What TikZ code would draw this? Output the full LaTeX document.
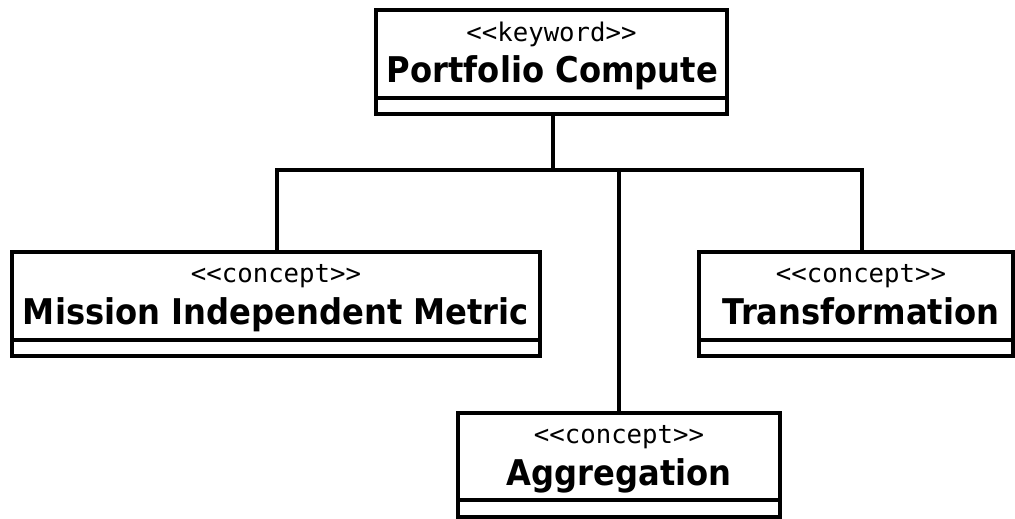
\documentclass[tikz,border=0pt]{standalone}
\usepackage{fontspec}
\setmainfont{DejaVu Sans}
\newfontfamily\stereofont{DejaVu Sans Mono}
\newfontfamily\namefont{DejaVu Sans Bold}
\newcommand{\tallname}[1]{\scalebox{1}[1.1]{#1}}
\begin{document}
\begin{tikzpicture}[x=1pt,y=-1pt,
  classbox/.style={draw=black,line width=3.3pt,rectangle,inner sep=0pt,minimum height=104pt},
  stereo/.style={anchor=base,inner sep=0pt,font=\stereofont\fontsize{25.7}{28}\selectfont},
  cname/.style={anchor=base,inner sep=0pt,font=\namefont\fontsize{32.2}{36}\selectfont},
  conn/.style={line width=3.3pt,line cap=rect}]
\useasboundingbox (0,0) rectangle (1015,519);
% boxes
\node[classbox,minimum width=351pt] (top) at (551.5,62) {};
\node[classbox,minimum width=528pt] (mim) at (276,304) {};
\node[classbox,minimum width=314pt] (trans) at (856,304) {};
\node[classbox,minimum width=322pt] (agg) at (619,465) {};
% dividers
\draw[line width=3.3pt] (top.west |- 0,98) -- (top.east |- 0,98);
\draw[line width=3.3pt] (mim.west |- 0,340) -- (mim.east |- 0,340);
\draw[line width=3.3pt] (trans.west |- 0,340) -- (trans.east |- 0,340);
\draw[line width=3.3pt] (agg.west |- 0,500) -- (agg.east |- 0,500);
% texts
\node[stereo] (topst) at (551.5,42) {<<keyword>>};
\node[cname] (topnm) at (552.5,82) {\tallname{Portfolio Compute}};
\node[stereo] (mimst) at (276,282) {<<concept>>};
\node[cname] (mimnm) at (276,324) {\tallname{Mission Independent Metric}};
\node[stereo] (transst) at (861,282) {<<concept>>};
\node[cname] (transnm) at (861,324) {\tallname{Transformation}};
\node[stereo] (aggst) at (619,443) {<<concept>>};
\node[cname] (aggnm) at (619,485) {\tallname{Aggregation}};
% connectors
\coordinate (bus) at (553,170);
\draw[conn] ([xshift=1.5pt]top.south) -- (bus);
\draw[conn] ([xshift=1pt]mim.north) |- (bus);
\draw[conn] ([xshift=6pt]trans.north) |- (bus);
\draw[conn] (agg.north) -- (agg.north |- bus);
\end{tikzpicture}
\end{document}
